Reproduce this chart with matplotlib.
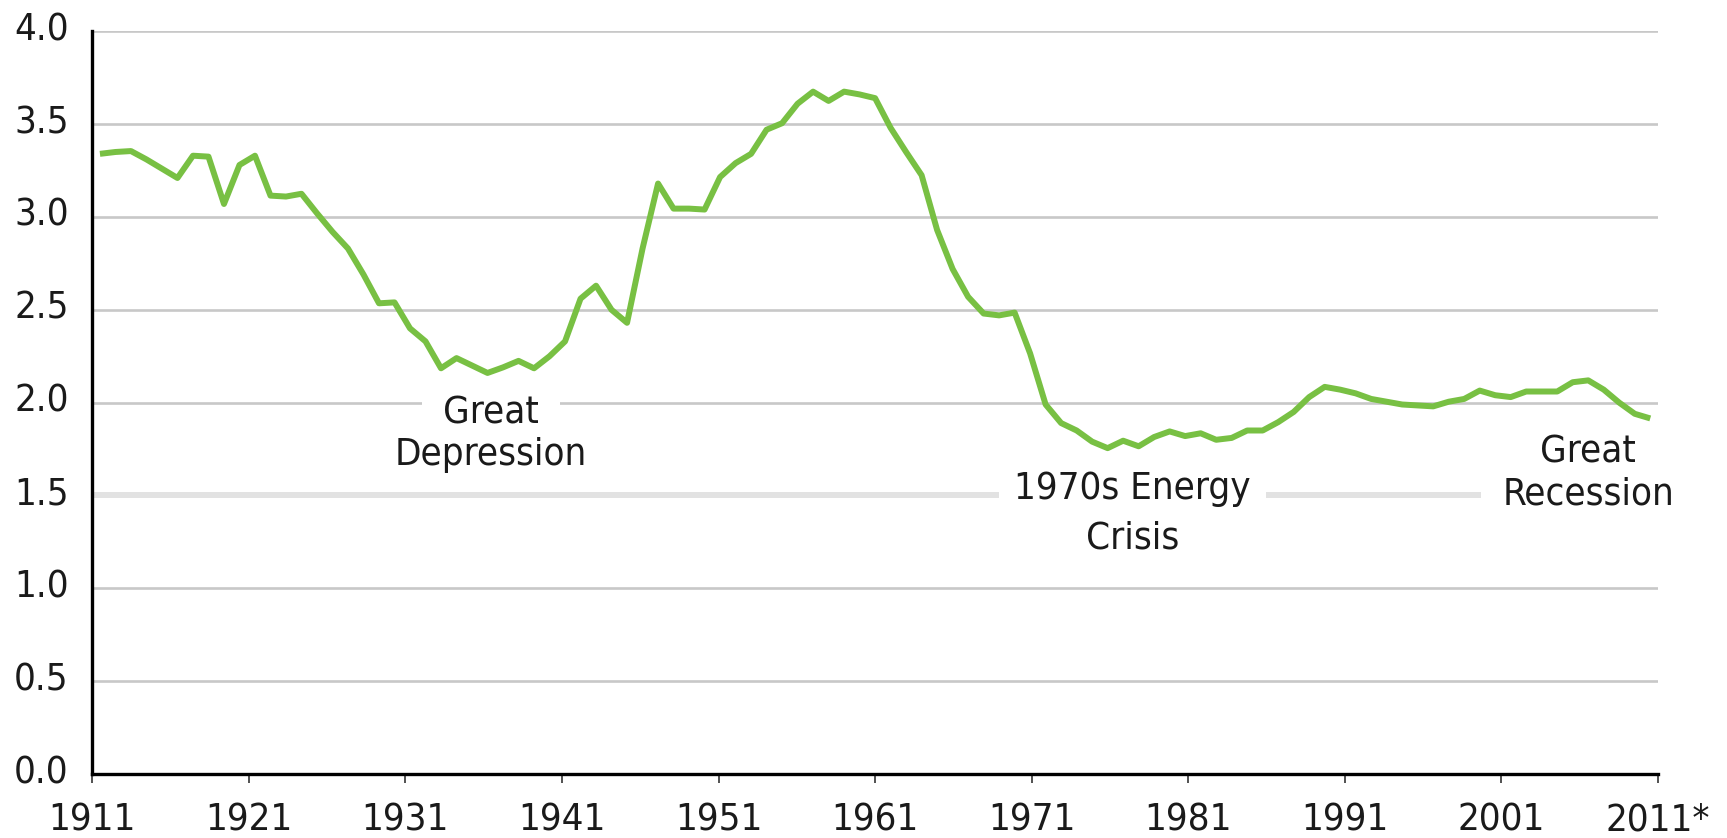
import matplotlib
matplotlib.use("Agg")
import matplotlib.pyplot as plt
import numpy as np
from matplotlib.transforms import ScaledTranslation

# ---- data ----
years = list(range(1911, 2012))
values = [
    3.34, 3.35, 3.355, 3.31, 3.26, 3.21, 3.33, 3.325, 3.07, 3.28,
    3.33, 3.115, 3.11, 3.125, 3.02, 2.92, 2.83, 2.69, 2.535, 2.54,
    2.40, 2.33, 2.185, 2.24, 2.20, 2.16, 2.19, 2.225, 2.185, 2.25,
    2.33, 2.56, 2.63, 2.50, 2.43, 2.83, 3.18, 3.045, 3.045, 3.04,
    3.215, 3.29, 3.34, 3.47, 3.505, 3.61, 3.675, 3.625, 3.675, 3.66,
    3.64, 3.48, 3.35, 3.225, 2.93, 2.72, 2.57, 2.48, 2.47, 2.485,
    2.265, 1.99, 1.89, 1.85, 1.79, 1.755, 1.795, 1.765, 1.815, 1.845,
    1.82, 1.835, 1.80, 1.81, 1.85, 1.85, 1.895, 1.95, 2.03, 2.085,
    2.07, 2.05, 2.02, 2.005, 1.99, 1.985, 1.98, 2.005, 2.02, 2.065,
    2.04, 2.03, 2.06, 2.06, 2.06, 2.11, 2.12, 2.07, 2.00, 1.94,
    1.915,
]
y_ticks = [0.0, 0.5, 1.0, 1.5, 2.0, 2.5, 3.0, 3.5, 4.0]
y_tick_labels = ["0.0", "0.5", "1.0", "1.5", "2.0", "2.5", "3.0", "3.5", "4.0"]
x_tick_labels = ["1911", "1921", "1931", "1941", "1951", "1961",
                 "1971", "1981", "1991", "2001", "2011*"]

# annotations: (lines, x, baselines, box pads)
annotations = [
    (["Great", "Depression"], 1936.2, [1.89, 1.664], [0.55, None]),
    (["1970s Energy", "Crisis"], 1977.6, [1.481, 1.212], [0.4, None]),
    (["Great", "Recession"], 2007.0, [1.675, 1.449], [None, 0.55]),
]

LINE_COLOR = "#78c043"
GRID_COLOR = "#c8c8c8"
GRID_LIGHT = "#e2e2e2"
TEXT_COLOR = "#1a1a1a"
FONT = dict(family="DejaVu Sans", fontstretch="condensed")
FS = 27.5

fig = plt.figure(figsize=(17.27, 8.38), dpi=100)
ax = fig.add_axes([92.2 / 1727, 1 - 774 / 838, (1658 - 92.2) / 1727, (774 - 31.3) / 838])

x0, x1 = years[0] - 0.5, years[-1] + 0.5
ax.set_xlim(x0, x1)
ax.set_ylim(y_ticks[0], y_ticks[-1])

# gridlines
for v in y_ticks[1:]:
    if v == 1.5:
        ax.axhline(v, color=GRID_LIGHT, lw=4.3, zorder=1)
    else:
        ax.axhline(v, color=GRID_COLOR, lw=1.9, zorder=1)

ax.plot(years, values, color=LINE_COLOR, lw=4.3, zorder=4,
        solid_joinstyle="round", solid_capstyle="butt")

# annotations (boxed lines hide the gridlines behind them)
for lines, x, bases, pads in annotations:
    for txt, yb, pad in zip(lines, bases, pads):
        kw = {}
        z = 3
        if pad is not None:
            kw["bbox"] = dict(facecolor="white", edgecolor="none",
                              boxstyle=f"square,pad={pad}")
            z = 2
        ax.text(x, yb, txt, ha="center", va="baseline", fontsize=FS,
                color=TEXT_COLOR, zorder=z, **FONT, **kw)

# axes styling
for s in ["top", "right"]:
    ax.spines[s].set_visible(False)
for s in ["left", "bottom"]:
    ax.spines[s].set_color("black")
    ax.spines[s].set_linewidth(2.4)
    ax.spines[s].set_zorder(5)

ax.set_yticks(y_ticks)
ax.set_yticklabels(y_tick_labels, fontsize=FS, color=TEXT_COLOR, **FONT)
ax.set_xticks(np.linspace(x0, x1, len(x_tick_labels)))
ax.set_xticklabels(x_tick_labels, fontsize=FS, color=TEXT_COLOR, **FONT)
ax.tick_params(axis="y", length=0, pad=17)
ax.tick_params(axis="x", length=6.5, width=1.2, color="#333333", pad=14)

off = ScaledTranslation(0, 0.05, fig.dpi_scale_trans)
for lab in ax.get_yticklabels():
    lab.set_transform(lab.get_transform() + off)

fig.savefig("out.png", dpi=100, facecolor="white")
